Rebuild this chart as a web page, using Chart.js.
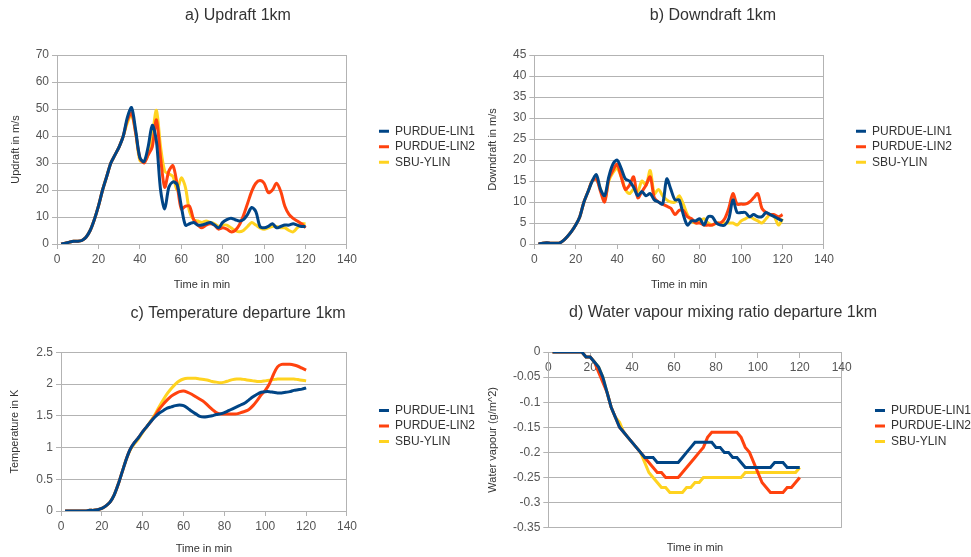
<!DOCTYPE html>
<html lang="en">
<head>
<meta charset="UTF-8">
<title>Updraft, downdraft, temperature and water vapour 1km</title>
<script src="https://cdn.jsdelivr.net/npm/chart.js"></script>
<style>
  body{margin:0; width:971px; height:557px; overflow:hidden; background:#fff; position:relative;}
  canvas{position:absolute;}
  #chartA{left:-9px; top:0;}
  #chartB{left:464px; top:0;}
  #chartC{left:-9px; top:295px;}
  #chartD{left:465px; top:295px;}
</style>
</head>
<body>
<canvas id="chartA" width="494" height="295"></canvas>
<canvas id="chartB" width="498" height="295"></canvas>
<canvas id="chartC" width="494" height="262"></canvas>
<canvas id="chartD" width="516" height="262"></canvas>
<script>
const timeMin = [2, 4, 6, 8, 10, 12, 14, 16, 18, 20, 22, 24, 26, 28, 30, 32, 34, 36, 38, 40,
  42, 44, 46, 48, 50, 52, 54, 56, 58, 60, 62, 64, 66, 68, 70, 72, 74, 76, 78, 80,
  82, 84, 86, 88, 90, 92, 94, 96, 98, 100, 102, 104, 106, 108, 110, 112, 114, 116, 118, 120];
const seriesNames = ['PURDUE-LIN1', 'PURDUE-LIN2', 'SBU-YLIN'];
const xTicks = [0, 20, 40, 60, 80, 100, 120, 140];

// a) updraft, m/s
const updraftLin1 = [0, 0.3, 0.7, 1, 1, 1.3, 2.5, 5, 9, 14,
  20, 25, 30, 33, 36, 40, 47, 50.5, 42, 32,
  30.5, 36, 44, 38, 20, 13, 21, 23, 22, 14,
  7, 7.5, 8, 7, 7, 7.5, 8, 7, 6, 8,
  9, 9.5, 9, 8.5, 9, 11, 13.5, 12, 6.5, 6,
  6.5, 7.5, 6, 6.5, 7, 7, 7.5, 7, 6.5, 6.5];
const updraftLin2 = [0, 0.3, 0.7, 1, 1, 1.3, 2.5, 5, 9, 14,
  20, 25, 30, 33, 36, 40, 46, 48.5, 41, 32,
  30, 33, 36, 46, 32, 21, 27, 29, 22, 13,
  14, 14, 9, 7, 6, 7, 7.5, 7, 5.5, 6,
  5.5, 4.5, 5, 7, 10.5, 15, 19.5, 22.5, 23.5, 22.5,
  19, 20, 22.5, 19.5, 14, 11, 9.5, 8.5, 7.5, 6];
const updraftYlin = [0, 0.3, 0.7, 1, 1, 1.3, 2.5, 5, 9, 14,
  20, 25, 30, 33, 36, 40, 45, 48, 41, 31,
  30.5, 33, 40, 49.5, 36, 27, 26, 25, 20, 24.5,
  21, 12, 9, 8.5, 8, 8.5, 8, 7.5, 6.5, 7,
  7, 6, 5, 4.5, 5, 6.5, 8, 7, 6, 5.5,
  6, 6.5, 6.5, 6, 6, 5, 4.5, 6, 7.5, 7.5];

// b) downdraft, m/s
const downdraftLin1 = [0, 0.2, 0.3, 0.2, 0.2, 0.2, 0.8, 1.8, 3, 4.5,
  6.5, 10, 12.5, 15, 16.5, 13, 11.5, 16, 19, 20,
  18, 15.5, 15, 13.5, 11.5, 12.5, 11.5, 12, 10.5, 10,
  9.5, 15.5, 13, 10.5, 10.5, 7, 4.5, 5.5, 5.5, 6,
  4.5, 6.5, 6.5, 5, 4.5, 4.5, 6, 10.5, 7.5, 7.5,
  7.5, 6.5, 7, 6.5, 6.5, 7.5, 7, 6.5, 6, 5.5];
const downdraftLin2 = [0, 0.2, 0.3, 0.2, 0.2, 0.2, 0.8, 1.8, 3, 4.5,
  6.5, 10, 12.5, 15, 15.5, 12.5, 10, 15.5, 17.5, 19,
  16, 13, 14, 16, 11, 12.5, 14, 16, 11, 10,
  9.5, 9, 8.5, 7, 8, 8, 6.5, 6, 5, 5,
  4.5, 4.5, 4.5, 5, 5, 6, 8.5, 12, 9.5, 9.5,
  9.5, 10, 11, 12, 8.5, 7.5, 7, 7, 6.5, 7];
const downdraftYlin = [0, 0.2, 0.3, 0.2, 0.2, 0.2, 0.8, 1.8, 3, 4.5,
  6.5, 10, 12.5, 15, 15.5, 13, 10.5, 15, 17, 18,
  16, 13, 12, 13, 12.5, 15, 14, 17.5, 12, 13,
  11.5, 10.5, 10, 10, 11.5, 9.5, 7, 5.5, 5, 5.5,
  6, 5, 4.5, 5, 5, 5, 5, 5, 4.5, 5.5,
  6, 6.5, 6, 5.5, 5, 6, 7, 6.5, 4.5, 6];

// c) temperature departure, K
const tempLin1 = [0, 0, 0, 0, 0, 0, 0.01, 0.01, 0.02, 0.04,
  0.08, 0.14, 0.25, 0.42, 0.62, 0.82, 0.98, 1.08, 1.16, 1.25,
  1.33, 1.41, 1.48, 1.54, 1.58, 1.62, 1.64, 1.66, 1.67, 1.66,
  1.62, 1.57, 1.53, 1.49, 1.48, 1.49, 1.5, 1.52, 1.53, 1.55,
  1.58, 1.61, 1.64, 1.67, 1.7, 1.75, 1.8, 1.84, 1.87, 1.88,
  1.88, 1.87, 1.86, 1.86, 1.87, 1.88, 1.9, 1.91, 1.92, 1.94];
const tempLin2 = [0, 0, 0, 0, 0, 0, 0.01, 0.01, 0.02, 0.04,
  0.08, 0.14, 0.25, 0.42, 0.62, 0.82, 0.98, 1.08, 1.16, 1.25,
  1.33, 1.41, 1.5, 1.6, 1.68, 1.75, 1.81, 1.85, 1.88, 1.89,
  1.87, 1.84, 1.8, 1.76, 1.72, 1.66, 1.6, 1.55, 1.53, 1.53,
  1.53, 1.53, 1.53, 1.55, 1.57, 1.6, 1.66, 1.74, 1.83, 1.9,
  2.0, 2.15, 2.27, 2.31, 2.31, 2.31, 2.3, 2.28, 2.25, 2.22];
const tempYlin = [0, 0, 0, 0, 0, 0, 0.01, 0.01, 0.02, 0.04,
  0.08, 0.14, 0.25, 0.42, 0.62, 0.82, 0.97, 1.06, 1.14, 1.24,
  1.33, 1.42, 1.52, 1.64, 1.75, 1.85, 1.93, 2.0, 2.05, 2.08,
  2.09, 2.09, 2.09, 2.08, 2.07, 2.06, 2.04, 2.03, 2.02, 2.03,
  2.05, 2.07, 2.08, 2.08, 2.07, 2.06, 2.05, 2.04, 2.04, 2.05,
  2.06, 2.07, 2.08, 2.08, 2.08, 2.08, 2.08, 2.07, 2.06, 2.05];

// d) water vapour mixing ratio departure
const vapourLin1 = [0, 0, 0, 0, 0, 0, 0, 0, -0.01, -0.01,
  -0.02, -0.03, -0.05, -0.08, -0.11, -0.13, -0.15, -0.16, -0.17, -0.18,
  -0.19, -0.2, -0.21, -0.21, -0.21, -0.22, -0.22, -0.22, -0.22, -0.22,
  -0.22, -0.21, -0.2, -0.19, -0.18, -0.18, -0.18, -0.18, -0.18, -0.19,
  -0.19, -0.2, -0.2, -0.21, -0.21, -0.22, -0.23, -0.23, -0.23, -0.23,
  -0.23, -0.23, -0.23, -0.22, -0.22, -0.22, -0.23, -0.23, -0.23, -0.23];
const vapourLin2 = [0, 0, 0, 0, 0, 0, 0, 0, -0.01, -0.01,
  -0.02, -0.04, -0.06, -0.08, -0.11, -0.13, -0.15, -0.16, -0.17, -0.18,
  -0.19, -0.2, -0.21, -0.22, -0.23, -0.24, -0.24, -0.25, -0.25, -0.25,
  -0.25, -0.24, -0.23, -0.22, -0.21, -0.2, -0.19, -0.17, -0.16, -0.16,
  -0.16, -0.16, -0.16, -0.16, -0.16, -0.17, -0.19, -0.2, -0.22, -0.24,
  -0.26, -0.27, -0.28, -0.28, -0.28, -0.28, -0.27, -0.27, -0.26, -0.25];
const vapourYlin = [0, 0, 0, 0, 0, 0, 0, 0, -0.01, -0.01,
  -0.02, -0.03, -0.05, -0.08, -0.11, -0.13, -0.14, -0.16, -0.17, -0.18,
  -0.19, -0.2, -0.22, -0.24, -0.25, -0.26, -0.27, -0.27, -0.28, -0.28,
  -0.28, -0.28, -0.27, -0.27, -0.26, -0.26, -0.25, -0.25, -0.25, -0.25,
  -0.25, -0.25, -0.25, -0.25, -0.25, -0.25, -0.24, -0.24, -0.24, -0.24,
  -0.24, -0.24, -0.24, -0.24, -0.24, -0.24, -0.24, -0.24, -0.24, -0.23];

const colors = ['#004586', '#ff420e', '#ffd320'];
const GRID = '#b3b3b3';
const FONT = "'Liberation Sans', Arial, sans-serif";

Chart.defaults.font.family = FONT;
Chart.defaults.color = '#555';

function tickText(v){ return String(+Number(v).toFixed(2)); }

function drawPanel(id, p){
  const datasets = p.series.map(function(vals, i){
    return {
      label: seriesNames[i],
      data: timeMin.map(function(t, k){ return {x: t, y: vals[k]}; }),
      borderColor: colors[i],
      backgroundColor: colors[i],
      borderWidth: 3,
      pointRadius: 0,
      tension: p.tension,
      fill: false
    };
  });

  const xAxis = {
    type: 'linear', min: 0, max: 140,
    position: p.xPos || 'bottom',
    afterBuildTicks: function(s){ s.ticks = xTicks.map(function(v){ return {value: v}; }); },
    grid: {
      color: function(c){ return c.tick && c.tick.value === 140 ? GRID : 'rgba(0,0,0,0)'; },
      tickColor: GRID, tickLength: 5
    },
    border: {display: true, color: GRID},
    ticks: {font: {size: 12}, color: '#555', padding: 3, maxRotation: 0, callback: tickText},
    title: {display: !p.xPos, text: 'Time in min', font: {size: 11}, color: '#333',
            padding: {top: p.xTitleTop, bottom: p.xTitleBottom}}
  };

  const scales = {
    x: xAxis,
    y: {
      type: 'linear', min: p.yMin, max: p.yMax,
      ticks: {stepSize: p.yStep, font: {size: 12}, color: '#555', padding: 3, callback: tickText},
      grid: {color: GRID, tickColor: GRID, tickLength: 5},
      border: {display: true, color: GRID},
      title: {display: true, text: p.yTitle, font: {size: 11}, color: '#333', padding: {top: p.yTitlePad, bottom: 0}},
      afterFit: function(s){ s.width = p.yWidth; }
    },
    // empty spacer between plot and legend
    gap: {
      type: 'linear', position: 'right', display: true,
      grid: {display: false, drawTicks: false}, border: {display: false},
      ticks: {display: false},
      afterFit: function(s){ s.width = p.gap; }
    }
  };
  if (p.xPos) {
    // title-only axis at the bottom, the tick axis sits on y = 0
    scales.xt = {
      type: 'linear', position: 'bottom', display: true, min: 0, max: 140,
      grid: {display: false, drawTicks: false}, border: {display: false},
      ticks: {display: false},
      title: {display: true, text: 'Time in min', font: {size: 11}, color: '#333', padding: {top: 13.7, bottom: 2.4}}
    };
  }

  new Chart(document.getElementById(id), {
    type: 'line',
    data: {datasets: datasets},
    options: {
      responsive: false,
      animation: false,
      devicePixelRatio: 1,
      layout: {padding: {left: 0, right: 0, top: 0, bottom: p.padBottom}},
      scales: scales,
      plugins: {
        title: {display: true, text: p.title, font: {size: 16, weight: 'normal'}, color: '#333',
                padding: {top: p.titleTop, bottom: p.titleBottom}},
        legend: {
          position: 'right', align: 'center', maxWidth: 200,
          labels: {usePointStyle: true, pointStyle: 'line', pointStyleWidth: 10,
                   font: {size: 12}, color: '#333', padding: 3.5}
        },
        tooltip: {enabled: false}
      }
    }
  });
}

drawPanel('chartA', {
  title: 'a) Updraft 1km', yTitle: 'Updraft in m/s',
  series: [updraftLin1, updraftLin2, updraftYlin],
  yMin: 0, yMax: 70, yStep: 10, tension: 0.3,
  yWidth: 66, yTitlePad: 18.4, gap: 28.5, padBottom: 1.4, titleTop: 6.4, titleBottom: 29.4,
  xTitleTop: 9, xTitleBottom: 2
});
drawPanel('chartB', {
  title: 'b) Downdraft 1km', yTitle: 'Downdraft in m/s',
  series: [downdraftLin1, downdraftLin2, downdraftYlin],
  yMin: 0, yMax: 45, yStep: 5, tension: 0.3,
  yWidth: 70.3, yTitlePad: 22.1, gap: 28.5, padBottom: 1.4, titleTop: 6.4, titleBottom: 29.4,
  xTitleTop: 9, xTitleBottom: 2
});
drawPanel('chartC', {
  title: 'c) Temperature departure 1km', yTitle: 'Temperature in K',
  series: [tempLin1, tempLin2, tempYlin],
  yMin: 0, yMax: 2.5, yStep: 0.5, tension: 0.3,
  yWidth: 70, yTitlePad: 17.4, gap: 28.5, padBottom: 0, titleTop: 9, titleBottom: 29.1,
  xTitleTop: 6, xTitleBottom: 1.4
});
drawPanel('chartD', {
  title: 'd) Water vapour mixing ratio departure 1km', yTitle: 'Water vapour (g/m^2)',
  series: [vapourLin1, vapourLin2, vapourYlin],
  yMin: -0.35, yMax: 0, yStep: 0.05, tension: 0,
  yWidth: 83.3, yTitlePad: 21.4, gap: 29.8, padBottom: 0, titleTop: 8, titleBottom: 29.8,
  xPos: {y: 0}
});
</script>
</body>
</html>
